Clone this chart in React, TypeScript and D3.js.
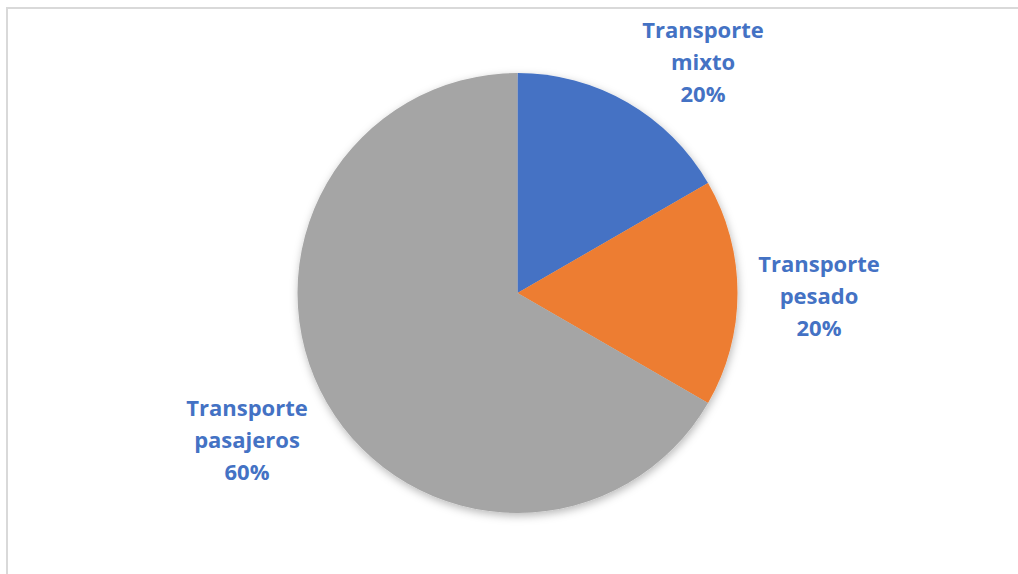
import React from "react";
import * as d3 from "d3";

const categories = ["Transporte mixto", "Transporte pesado", "Transporte pasajeros"];
const values = [1, 1, 4];
const percentLabels = ["20%", "20%", "60%"];
const labelLines = [["Transporte", "mixto"], ["Transporte", "pesado"], ["Transporte", "pasajeros"]];
const colors = ["#4472C4", "#ED7D31", "#A5A5A5"];

const W = 1018;
const H = 574;
const CX = 517.5;
const CY = 293;
const R = 220;
// label centers (middle line) in px, relative layout
const labelPos: [number, number][] = [
  [703, 63],
  [819, 297],
  [247, 441],
];

export default function App() {
  const pie = d3.pie<number>().sort(null).value((d) => d)(values);
  const arc = d3.arc<d3.PieArcDatum<number>>().innerRadius(0).outerRadius(R);
  const lineH = 32;
  return (
    <svg width={W} height={H} style={{ position: "absolute", left: 0, top: 0 }}>
      <defs>
        <filter id="sh" x="-20%" y="-20%" width="140%" height="140%">
          <feDropShadow dx="1" dy="3" stdDeviation="4" floodColor="#000" floodOpacity="0.28" />
        </filter>
      </defs>
      <rect x={0} y={0} width={W} height={H} fill="#fff" />
      <rect x={7} y={8} width={W + 20} height={H + 20} fill="none" stroke="#d9d9d9" strokeWidth={2} />
      <g transform={`translate(${CX},${CY})`} filter="url(#sh)">
        {pie.map((p, i) => (
          <path key={categories[i]} d={arc(p) || ""} fill={colors[i]} />
        ))}
      </g>
      {labelPos.map(([x, y], i) => (
        <text
          key={i}
          x={x}
          textAnchor="middle"
          fontFamily="'Open Sans', Lato, sans-serif"
          fontWeight="bold"
          fontSize={22}
          fill="#4472C4"
        >
          {[...labelLines[i], percentLabels[i]].map((t, j) => (
            <tspan key={j} x={x} y={y + (j - 1) * lineH + 7}>
              {t}
            </tspan>
          ))}
        </text>
      ))}
    </svg>
  );
}
